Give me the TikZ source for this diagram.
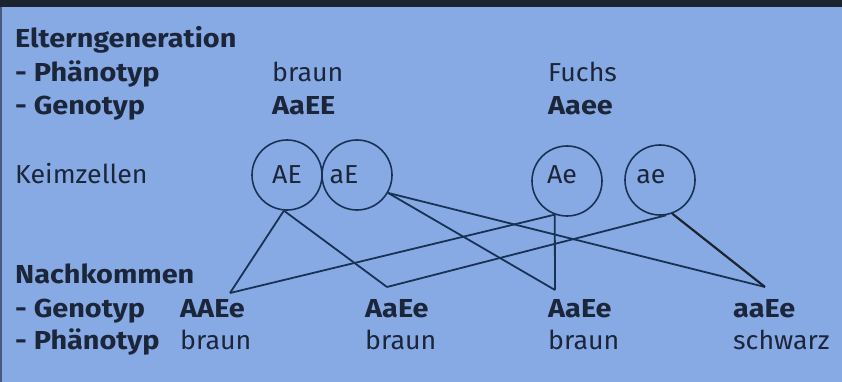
\documentclass[tikz,border=0pt]{standalone}
\usepackage{fontspec}
\setmainfont{Fira Sans}[FakeStretch=1.03, BoldFeatures={FakeStretch=1.11}]
\definecolor{bg}{RGB}{136,170,228}
\definecolor{band}{RGB}{28,36,50}
\definecolor{edge}{RGB}{70,90,125}
\definecolor{ink}{RGB}{28,38,58}
\definecolor{wire}{RGB}{24,50,86}
\begin{document}
\begin{tikzpicture}[x=1pt,y=-1pt,
  txt/.style={anchor=base west,inner sep=0pt,text=ink,font=\fontsize{26}{29}\selectfont},
  btxt/.style={txt,font=\fontsize{26}{29}\selectfont\bfseries},
  cell/.style={circle,draw=wire,line width=1.6pt,minimum size=70pt,inner sep=0pt},
  celltxt/.style={anchor=base,inner sep=0pt,text=ink,font=\fontsize{26}{29}\selectfont},
  link/.style={draw=wire,line width=1.8pt,line join=round},
  heavylink/.style={link,draw=band,line width=2.2pt}]
\fill[bg] (0,0) rectangle (842,382);
\fill[band] (0,0) rectangle (842,7);
\fill[edge] (0,7) rectangle (1.5,382);
\useasboundingbox (0,0) rectangle (842,382);
% header block
\node[btxt] (elt) at (15,48) {Elterngeneration};
\node[btxt] (ph1) at (15,82) {- Phänotyp};
\node[btxt] (ge1) at (15,115) {- Genotyp};
\node[txt] (pa1) at (272,82) {braun};
\node[btxt] (ga1) at (272,115) {AaEE};
\node[txt] (pa2) at (548,82) {Fuchs};
\node[btxt] (ga2) at (548,115) {Aaee};
\node[txt] (keim) at (15,183) {Keimzellen};
% gametes
\node[cell] (AE) at (287,175) {};
\node[cell] (aE) at (357,175) {};
\node[cell] (Ae) at (567,181) {};
\node[cell] (ae) at (660,180) {};
\node[celltxt] (tAE) at (287,183) {AE};
\node[celltxt] (taE) at (344,183) {aE};
\node[celltxt] (tAe) at (562,183) {Ae};
\node[celltxt] (tae) at (651,183) {ae};
% offspring
\node[btxt] (nach) at (15,283) {Nachkommen};
\node[btxt] (ge2) at (15,317) {- Genotyp};
\node[btxt] (ph2) at (15,349) {- Phänotyp};
\node[btxt] (o1) at (180,317) {AAEe};
\node[btxt] (o2) at (365,317) {AaEe};
\node[btxt] (o3) at (548,317) {AaEe};
\node[btxt] (o4) at (733,317) {aaEe};
\node[txt] (f1) at (180,349) {braun};
\node[txt] (f2) at (365,349) {braun};
\node[txt] (f3) at (548,349) {braun};
\node[txt] (f4) at (733,349) {schwarz};
% meeting points
\coordinate (p1) at (230,293);
\coordinate (p2) at (387,287);
\coordinate (p3) at (555,290);
\coordinate (p4) at (765,287);
\draw[link] (AE.-95) -- (p1);
\draw[link] (AE.-95) -- (p2);
\draw[link] (aE.-30) -- (p3);
\draw[link] (aE.-30) -- (p4);
\draw[link] (Ae.-110) -- (p3);
\draw[link] (Ae.-110) -- (p1);
\draw[link] (ae.-80) -- (p2);
\draw[heavylink] (ae.-70) -- (p4);
\end{tikzpicture}
\end{document}
